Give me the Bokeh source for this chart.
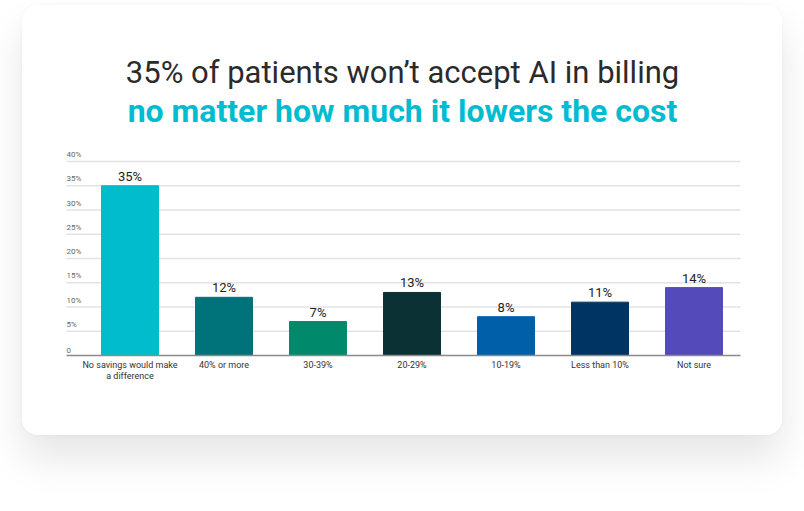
from bokeh.plotting import figure
from bokeh.models import Range1d, ColumnDataSource
from bokeh.core.properties import value
from bokeh.embed import file_html
from bokeh.resources import INLINE

categories = ["No savings would make\na difference", "40% or more", "30-39%", "20-29%",
              "10-19%", "Less than 10%", "Not sure"]
values = [35, 12, 7, 13, 8, 11, 14]
colors = ["#00BCCD", "#00727A", "#008A6C", "#0B3134", "#005FA9", "#003463", "#554AB9"]
y_ticks = [0, 5, 10, 15, 20, 25, 30, 35, 40]
y_tick_labels = ["0", "5%", "10%", "15%", "20%", "25%", "30%", "35%", "40%"]
title_1 = "35% of patients won\u2019t accept AI in billing"
title_2 = "no matter how much it lowers the cost"

FONT = "Roboto"
W, H = 760, 430

p = figure(width=W, height=H, output_backend="svg", toolbar_location=None,
           x_range=Range1d(-1.1436, 6.9415), y_range=Range1d(-16.49, 72.16),
           min_border=0, min_border_left=0, min_border_right=0,
           min_border_top=0, min_border_bottom=0,
           background_fill_color="white", border_fill_color="white",
           outline_line_color=None, margin=(5, 0, 0, 22))
p.axis.visible = False
p.grid.visible = False
p.styles = {"border-radius": "16px", "overflow": "hidden",
            "box-shadow": "0 24px 40px rgba(0,0,0,0.10), 0 0 5px rgba(0,0,0,0.04)"}

x_left, x_right = -0.6755, 6.4947
xs = list(range(len(categories)))

# gridlines
grid_y = [t for t in y_ticks if t > 0]
p.segment(x0=[x_left] * len(grid_y), x1=[x_right] * len(grid_y), y0=grid_y, y1=grid_y,
          line_color="#e3e3e3", line_width=1.5)
# y tick labels (above their gridline)
p.text(x=[x_left] * len(y_ticks), y=[t + 0.5 for t in y_ticks], text=y_tick_labels,
       text_font=value(FONT), text_font_size="8px", text_color="#666666",
       text_align="left", text_baseline="bottom")

# bars
src = ColumnDataSource(dict(x=xs, top=values, color=colors,
                            label=[f"{v}%" for v in values]))
p.vbar(x="x", top="top", width=0.606, bottom=0, fill_color="color", line_color="color",
       line_width=1, source=src)
p.text(x="x", y="top", text="label", source=src, y_offset=-2,
       text_font=value(FONT), text_font_size="13px", text_color="#222222",
       text_align="center", text_baseline="bottom")

# baseline
p.segment(x0=[x_left], x1=[x_right], y0=[0], y1=[0], line_color="#8a8a8a", line_width=1.5)

# category labels
p.text(x=xs, y=[0] * len(xs), text=categories, y_offset=4,
       text_font=value(FONT), text_font_size="9px", text_color="#333333",
       text_align="center", text_baseline="top", text_line_height=1.15)

# titles
p.text(x=[2.899], y=[58.35], text=[title_1], text_font=value(FONT),
       text_font_size="31px", text_color="#2b2b2b", text_align="center",
       text_baseline="middle")
p.text(x=[2.899], y=[50.5], text=[title_2], text_font=value(FONT),
       text_font_size="32px", text_font_style="bold", text_color="#00BCD0",
       text_align="center", text_baseline="middle")

open("out.html", "w").write(file_html(p, INLINE))
